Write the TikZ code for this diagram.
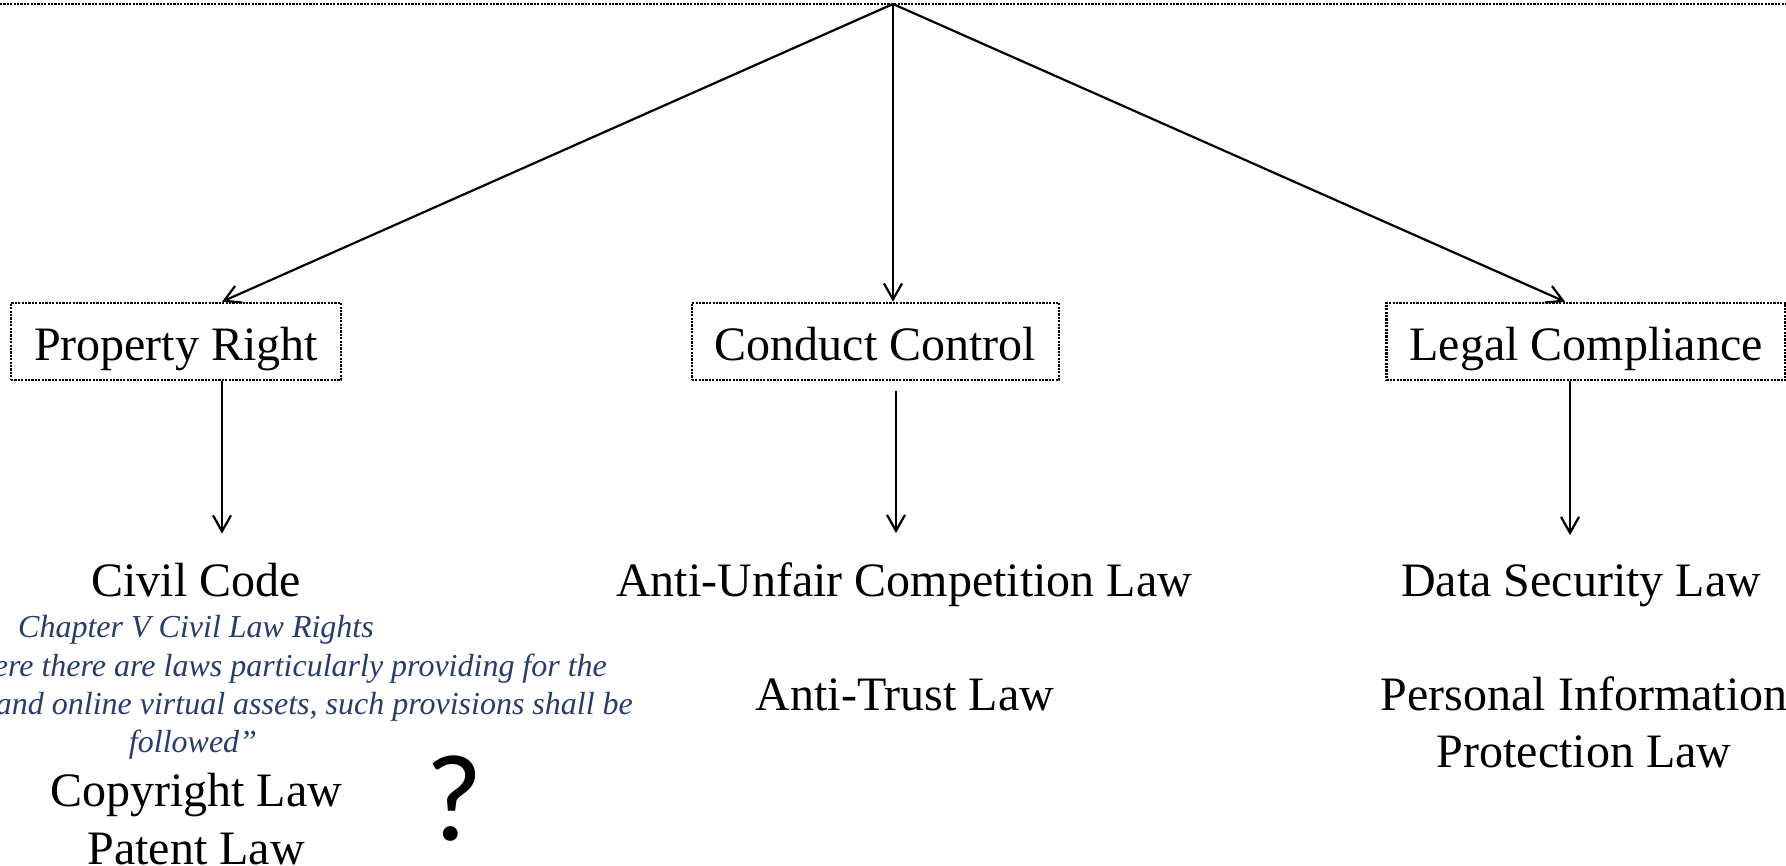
\documentclass[tikz,border=0pt]{standalone}
\usepackage{fontspec}
\setmainfont{Liberation Serif}
\newfontfamily\qfont{Carlito}
\usetikzlibrary{arrows.meta,positioning}
\definecolor{notecol}{RGB}{38,60,110}
\tikzset{font=\fontsize{24}{28.5}\selectfont}
\tikzset{every node/.append style={transform shape=false}}

\begin{document}
\begin{tikzpicture}[x=0.5pt,y=-0.5pt,line width=1.1pt,
  arr/.style={-{Straight Barb[length=8pt,width=9pt]}},
  dots/.style={line width=1.3pt,dash pattern=on 1.1pt off 0.6pt},
  dotbox/.style={draw,dots,inner xsep=11.5pt,inner ysep=7.85pt,text height=21pt,text depth=1.8pt},
  law/.style={align=center,inner sep=6pt},
  note/.style={text=notecol,font=\fontsize{16}{19}\selectfont\itshape,inner sep=0pt}]
  \useasboundingbox (0,0) rectangle (1786,866);
  \draw[dots] (0,4)--(1786,4);
  \coordinate (root) at (893,4);
  \node[dotbox] (prop) at (176,341.5) {Property Right};
  \node[dotbox] (cond) at (875.5,341.5) {Conduct Control};
  \node[dotbox] (legal) at (1586,341.5) {Legal Compliance};
  \draw[arr] (root) -- ([xshift=23pt]prop.north);
  \draw[arr] (root) -- ([xshift=8.75pt]cond.north);
  \draw[arr] (root) -- ([xshift=-10.5pt]legal.north);
  % laws under each heading
  \node[law,anchor=base] (civil) at (196,596) {Civil Code};
  \node[law,anchor=base] (unfair) at (904,596) {Anti-Unfair Competition Law};
  \node[law,anchor=base] (datasec) at (1581,596) {Data Security Law};
  \node[law,anchor=base] (trust) at (905,710) {Anti-Trust Law};
  \node[law,anchor=base] (pipl) at (1584,767) {Personal Information\\Protection Law};
  \node[law,anchor=base,font=\fontsize{24}{29}\selectfont] (copy) at (196,864) {Copyright Law\\Patent Law};
  \node[note,anchor=base] (art1) at (196,637) {Chapter V Civil Law Rights};
  \node[note,anchor=base east] (art2) at (608,676) {ere there are laws particularly providing for the};
  \node[note,anchor=base east] (art3) at (634,714) {and online virtual assets, such provisions shall be};
  \node[note,anchor=base] (art4) at (193,752) {followed”};
  \node[font=\qfont\fontsize{62}{62}\selectfont,anchor=base,inner sep=0pt] (ask) at (454,840) {?};
  \draw[arr,shorten >=8pt] ([xshift=23pt]prop.south) -- ([xshift=23pt]prop.south |- civil.north);
  \draw[arr,shorten <=5pt,shorten >=8pt] ([xshift=10.25pt]cond.south) -- ([xshift=10.25pt]cond.south |- unfair.north);
  \draw[arr,shorten >=8pt] ([xshift=-8pt]legal.south) -- ([xshift=-8pt]legal.south |- datasec.north);
\end{tikzpicture}
\end{document}
